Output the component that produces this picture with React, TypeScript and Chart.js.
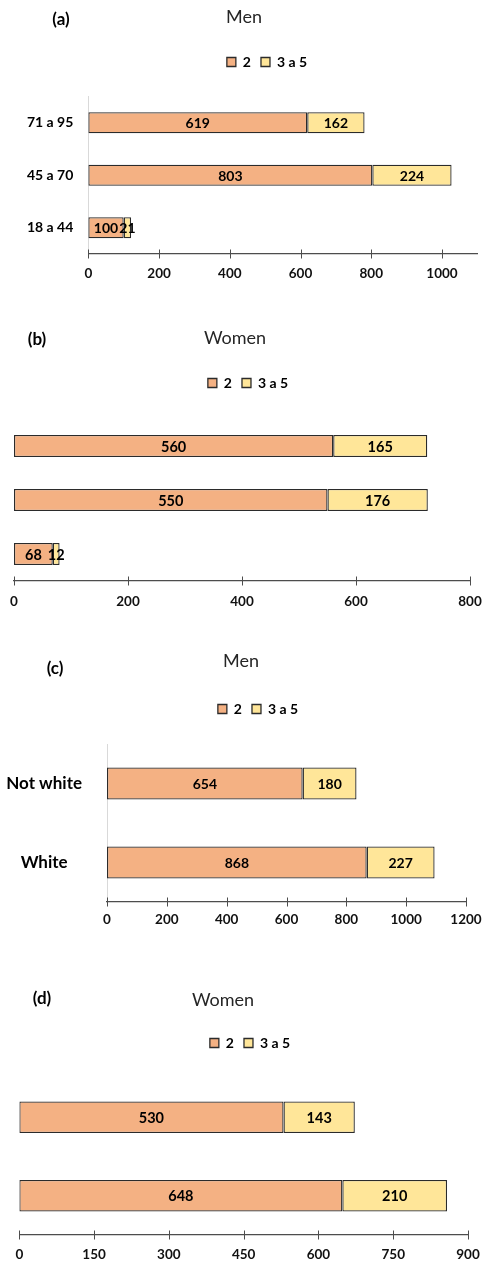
import React, { useEffect, useRef } from "react";
import { Chart, registerables } from "chart.js";

Chart.register(...registerables);

// ---------- data ----------
const seriesNames = ["2", "3 a 5"];

const ageGroups = ["71 a 95", "45 a 70", "18 a 44"];
const menAge2 = [619, 803, 100];
const menAge3to5 = [162, 224, 21];
const womenAge2 = [560, 550, 68];
const womenAge3to5 = [165, 176, 12];

const raceGroups = ["Not white", "White"];
const menRace2 = [654, 868];
const menRace3to5 = [180, 227];
const womenRace2 = [530, 648];
const womenRace3to5 = [143, 210];

const panelLetters = ["(a)", "(b)", "(c)", "(d)"];
const panelTitles = ["Men", "Women", "Men", "Women"];
const axisMax = [1100, 800, 1200, 900];
const axisStep = [200, 200, 200, 150];

// ---------- styles ----------
const FONT = "Lato, 'Open Sans', 'DejaVu Sans', sans-serif";
const COLOR_2 = "#F4B183";
const COLOR_3 = "#FFE699";
const BORDER = "#2b2b2b";
const AXIS = "#4d4d4d";

type PanelCfg = {
  top: number;
  height: number;
  area: { l: number; r: number; t: number; b: number };
  legend: { cx: number; cy: number };
  letter: { x: number; y: number };
  title: { x: number; y: number };
  labels: string[];
  s2: number[];
  s3: number[];
  max: number;
  step: number;
  showY: boolean;
  yFont: number;
  yCenter: boolean;
  yPad: number;
  barPct: number;
  dataFont: number;
  letterText: string;
  titleText: string;
  tickPad: number;
};

const panels: PanelCfg[] = [
  {
    top: 0, height: 300,
    area: { l: 88.3, r: 477.4, t: 96.5, b: 254 },
    legend: { cx: 267, cy: 62 },
    letter: { x: 61, y: 20 }, title: { x: 244, y: 17 },
    labels: ageGroups, s2: menAge2, s3: menAge3to5,
    max: axisMax[0], step: axisStep[0],
    showY: true, yFont: 14, yCenter: false, yPad: 15, barPct: 0.4, dataFont: 14,
    letterText: panelLetters[0], titleText: panelTitles[0], tickPad: 12,
  },
  {
    top: 300, height: 320,
    area: { l: 14, r: 470, t: 119, b: 281 },
    legend: { cx: 248, cy: 83 },
    letter: { x: 37, y: 40 }, title: { x: 235, y: 38 },
    labels: ageGroups, s2: womenAge2, s3: womenAge3to5,
    max: axisMax[1], step: axisStep[1],
    showY: false, yFont: 14, yCenter: false, yPad: 15, barPct: 0.407, dataFont: 14.5,
    letterText: panelLetters[1], titleText: panelTitles[1], tickPad: 13,
  },
  {
    top: 620, height: 320,
    area: { l: 107, r: 466, t: 124, b: 282 },
    legend: { cx: 258, cy: 89 },
    letter: { x: 55, y: 49 }, title: { x: 241, y: 41 },
    labels: raceGroups, s2: menRace2, s3: menRace3to5,
    max: axisMax[2], step: axisStep[2],
    showY: true, yFont: 17, yCenter: true, yPad: 25, barPct: 0.405, dataFont: 14,
    letterText: panelLetters[2], titleText: panelTitles[2], tickPad: 10,
  },
  {
    top: 940, height: 324,
    area: { l: 19.3, r: 468, t: 138, b: 295 },
    legend: { cx: 250, cy: 103 },
    letter: { x: 42, y: 59 }, title: { x: 223, y: 60 },
    labels: raceGroups, s2: womenRace2, s3: womenRace3to5,
    max: axisMax[3], step: axisStep[3],
    showY: false, yFont: 14, yCenter: false, yPad: 15, barPct: 0.4, dataFont: 14.5,
    letterText: panelLetters[3], titleText: panelTitles[3], tickPad: 12,
  },
];

// ---------- plugins ----------
const panelDecor = {
  id: "panelDecor",
  afterLayout(chart: any, _a: any, opts: any) {
    const lg = chart.legend;
    if (lg && opts.legend) {
      const top = opts.legend.cy - 17;
      lg.left = opts.legend.cx - 240;
      lg.right = opts.legend.cx + 240;
      lg.width = 480;
      lg.top = top;
      lg.bottom = top + 34;
      lg.height = 34;
    }
  },
  afterDraw(chart: any, _a: any, opts: any) {
    const ctx = chart.ctx;
    const xs = chart.scales.x;
    const area = chart.chartArea;
    ctx.save();
    // crossing tick marks on the x axis
    ctx.strokeStyle = AXIS;
    ctx.lineWidth = 1;
    xs.ticks.forEach((t: any) => {
      const px = Math.round(xs.getPixelForValue(t.value)) + 0.5;
      ctx.beginPath();
      ctx.moveTo(px, area.bottom - 4.5);
      ctx.lineTo(px, area.bottom + 4.5);
      ctx.stroke();
    });
    // panel letter and title
    ctx.fillStyle = "#000";
    ctx.textAlign = "center";
    ctx.textBaseline = "middle";
    ctx.font = `bold 17px ${FONT}`;
    ctx.fillText(opts.letterText, opts.letter.x, opts.letter.y);
    ctx.fillStyle = "#262626";
    ctx.font = `18px ${FONT}`;
    ctx.fillText(opts.titleText, opts.title.x, opts.title.y);
    ctx.restore();
  },
};

const barValues = {
  id: "barValues",
  afterDatasetsDraw(chart: any, _a: any, opts: any) {
    const ctx = chart.ctx;
    ctx.save();
    ctx.fillStyle = "#000";
    ctx.textAlign = "center";
    ctx.textBaseline = "middle";
    ctx.font = `bold ${opts.size}px ${FONT}`;
    chart.data.datasets.forEach((ds: any, di: number) => {
      const meta = chart.getDatasetMeta(di);
      meta.data.forEach((el: any, i: number) => {
        const p = el.getProps(["x", "y", "base"], true);
        ctx.fillText(String(ds.data[i]), (p.x + p.base) / 2, p.y + 1);
      });
    });
    ctx.restore();
  },
};

function Panel({ cfg }: { cfg: PanelCfg }) {
  const ref = useRef<HTMLCanvasElement | null>(null);
  useEffect(() => {
    if (!ref.current) return;
    const a = cfg.area;
    const chart = new Chart(ref.current, {
      type: "bar",
      data: {
        labels: cfg.labels,
        datasets: [
          {
            label: seriesNames[0],
            data: cfg.s2,
            backgroundColor: COLOR_2,
            borderColor: BORDER,
            borderWidth: 1.3,
            borderSkipped: false,
            categoryPercentage: 1,
            barPercentage: cfg.barPct,
          },
          {
            label: seriesNames[1],
            data: cfg.s3,
            backgroundColor: COLOR_3,
            borderColor: BORDER,
            borderWidth: 1.3,
            borderSkipped: false,
            categoryPercentage: 1,
            barPercentage: cfg.barPct,
          },
        ],
      },
      options: {
        indexAxis: "y",
        responsive: false,
        animation: false,
        layout: {
          padding: {
            top: a.t,
            right: 484 - a.r,
            bottom: 0,
            left: 0,
          },
        },
        scales: {
          x: {
            stacked: true,
            min: 0,
            max: cfg.max,
            grid: { display: false, drawTicks: false },
            border: { display: true, color: AXIS, width: 1.3 },
            ticks: {
              stepSize: cfg.step,
              includeBounds: false,
              padding: cfg.tickPad,
              color: "#111",
              font: { family: FONT, size: 13.5, weight: "bold" },
              callback: (v: any) => String(v),
            },
            afterFit: (s: any) => {
              s.height = cfg.height - a.b;
              s.paddingLeft = 0;
              s.paddingRight = 0;
            },
          },
          y: {
            stacked: true,
            display: cfg.showY,
            grid: { display: false, drawTicks: false },
            border: { display: true, color: "#d9d9d9", width: 1 },
            ticks: {
              padding: cfg.yPad,
              crossAlign: cfg.yCenter ? "center" : "near",
              color: "#000",
              font: { family: FONT, size: cfg.yFont, weight: "bold" },
            },
            afterFit: (s: any) => {
              s.width = a.l;
              s.paddingTop = 0;
              s.paddingBottom = 0;
            },
          },
        },
        plugins: {
          legend: {
            display: true,
            position: "top",
            maxHeight: 0.0001,
            labels: {
              boxWidth: 9,
              boxHeight: 9,
              padding: 10,
              color: "#000",
              font: { family: FONT, size: 14, weight: "bold" },
            },
          },
          title: { display: false },
          tooltip: { enabled: false },
          panelDecor: {
            legend: cfg.legend,
            letter: cfg.letter,
            title: cfg.title,
            letterText: cfg.letterText,
            titleText: cfg.titleText,
          },
          barValues: { size: cfg.dataFont },
        } as any,
      },
      plugins: [panelDecor, barValues],
    } as any);
    return () => chart.destroy();
  }, [cfg]);
  return (
    <canvas
      ref={ref}
      width={484}
      height={cfg.height}
      style={{ position: "absolute", left: 0, top: cfg.top, width: 484, height: cfg.height, display: "block" }}
    />
  );
}

export default function App() {
  return (
    <div style={{ position: "absolute", left: 0, top: 0, width: 484, height: 1264, background: "#fff" }}>
      {panels.map((p, i) => (
        <Panel key={i} cfg={p} />
      ))}
    </div>
  );
}
